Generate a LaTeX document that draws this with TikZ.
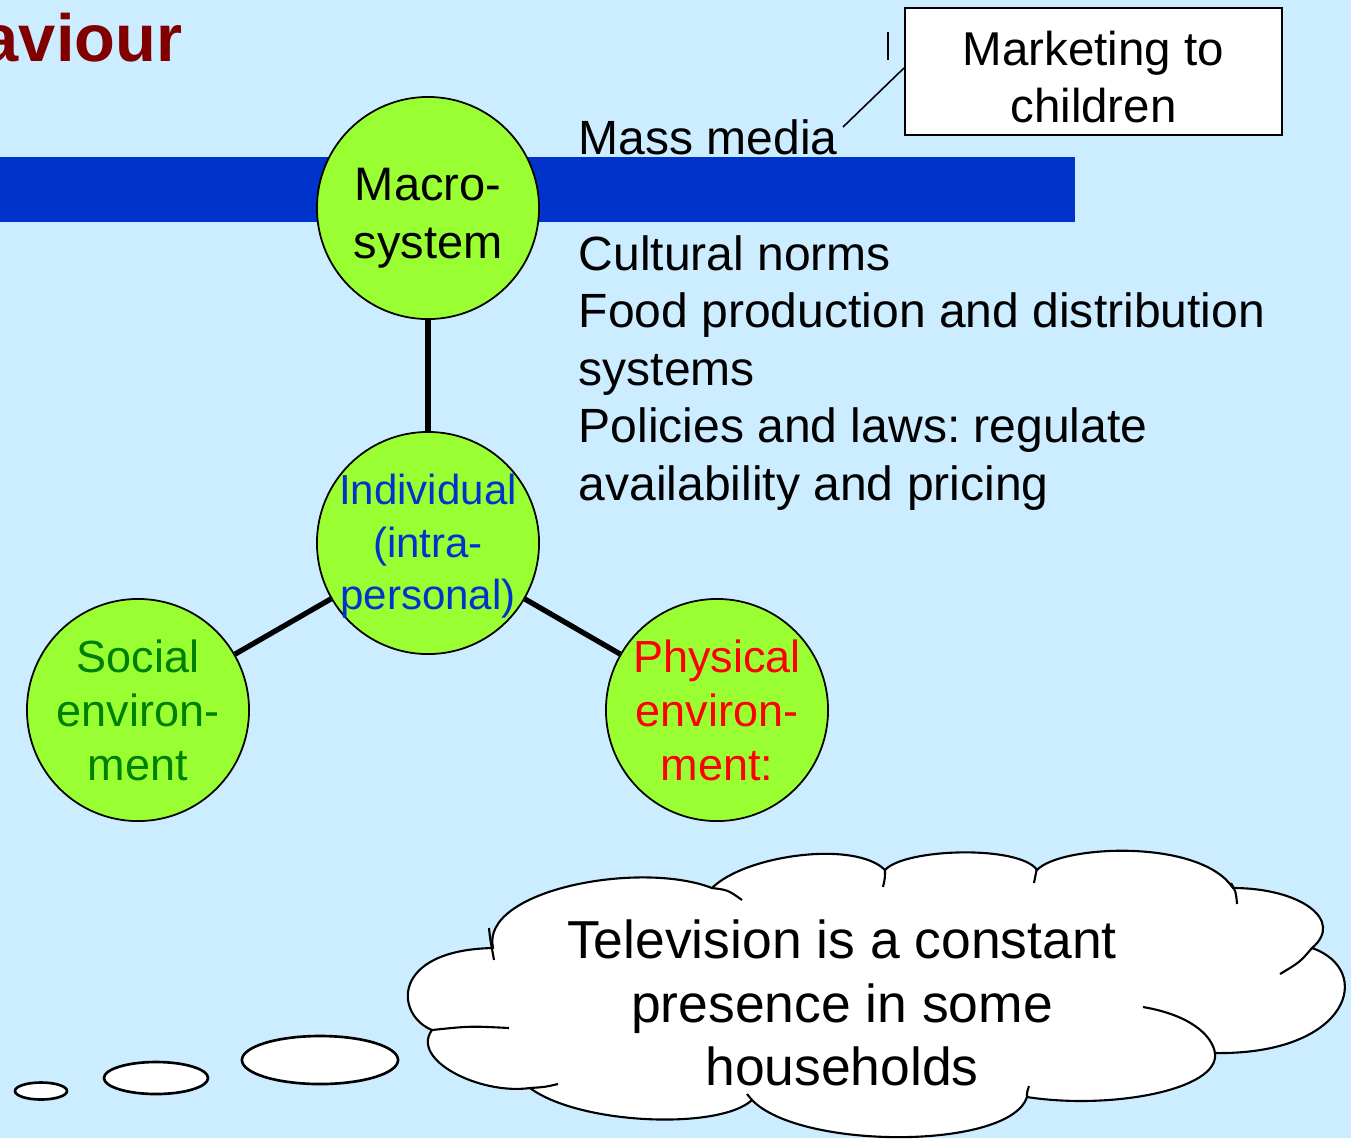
\documentclass[tikz,border=0pt]{standalone}
\usepackage{fontspec}
\setmainfont{Liberation Sans}
\frenchspacing
\definecolor{bg}{RGB}{204,236,255}
\definecolor{barblue}{RGB}{0,51,204}
\definecolor{ballgreen}{RGB}{153,255,51}
\definecolor{titlered}{RGB}{128,0,0}
\definecolor{socgreen}{RGB}{0,128,0}
\definecolor{indblue}{RGB}{0,51,204}
\tikzset{
  ball/.style={circle, draw=black, line width=0.5pt, fill=ballgreen, minimum size=2.22cm, inner sep=0pt, align=center},
  link/.style={line width=1.5pt, draw=black},
  bodytext/.style={anchor=base west, inner sep=0pt, font=\fontsize{13.66pt}{16.4pt}\selectfont},
  cloudline/.style={line width=0.6pt, draw=black},
  bubble/.style={line width=0.75pt, draw=black, fill=white},
}
\begin{document}
\begin{tikzpicture}[x=0.01cm, y=-0.01cm]
\useasboundingbox (0,0) rectangle (1351,1138);
\fill[bg] (0,0) rectangle (1351,1138);

% title fragment
\node[anchor=base east, inner sep=0pt, text=titlered, font=\fontsize{19pt}{22pt}\selectfont\bfseries] (title) at (183,61) {aviour};

% blue bar
\fill[barblue] (0,157) rectangle (1075,222);

% circles
\node[ball, font=\fontsize{13.37pt}{16.5pt}\selectfont, text height=1.0cm, text depth=0pt] (macro) at (428,208) {Macro-\\system};
\node[ball, text=indblue, font=\fontsize{11.95pt}{14.8pt}\selectfont, text height=1.32cm, text depth=0pt] (indiv) at (428,543) {Individual\\(intra-\\personal)};
\node[ball, text=socgreen, font=\fontsize{12.8pt}{15.36pt}\selectfont] (social) at (138,710) {Social\\environ-\\ment};
\node[ball, text=red, font=\fontsize{12.8pt}{15.36pt}\selectfont] (phys) at (717,710) {Physical\\environ-\\ment:};
\draw[link] (macro) -- (indiv);
\draw[link] (indiv) -- (social);
\draw[link] (indiv) -- (phys);

% right-hand text
\node[bodytext] (mm) at (578,154) {Mass media};
\node[bodytext] (t1) at (578,270) {Cultural norms};
\node[bodytext] (t2) at (578,327.5) {Food production and distribution};
\node[bodytext] (t3) at (578,385) {systems};
\node[bodytext] (t4) at (578,442.5) {Policies and laws: regulate};
\node[bodytext] (t5) at (578,500) {availability and pricing};

% marketing box
\node[draw=black, line width=0.5pt, fill=white, minimum width=3.77cm, minimum height=1.27cm, inner sep=0pt, align=center, text height=1.02cm, text depth=0pt, font=\fontsize{13.5pt}{16.2pt}\selectfont] (box) at (1093.5,71.5) {Marketing to\\children};
\coordinate (mmend) at (843,127);
\draw[line width=0.45pt] (mmend) -- ([yshift=0.035cm]box.west);
\coordinate (tickA) at (888,32);
\coordinate (tickB) at (888,60);
\draw[line width=0.45pt] (tickA) -- (tickB);

% cloud
\filldraw[cloudline, fill=white] (493,948) .. controls (480,890) and (640,860) .. (712,888)
 .. controls (745,855) and (855,840) .. (885,870)
 .. controls (905,848) and (1020,845) .. (1037,870)
 .. controls (1060,845) and (1200,838) .. (1233,888)
 .. controls (1300,888) and (1345,920) .. (1312,948)
 .. controls (1375,970) and (1350,1055) .. (1215,1053)
 .. controls (1220,1090) and (1110,1110) .. (1027,1097)
 .. controls (1010,1150) and (800,1150) .. (752,1100)
 .. controls (720,1130) and (580,1125) .. (530,1088)
 .. controls (480,1095) and (410,1060) .. (432,1030)
 .. controls (395,1015) and (390,950) .. (493,948) -- cycle;
\draw[cloudline] (489,928) .. controls (490,938) .. (494,960);
\draw[cloudline] (712,888) .. controls (728,890) .. (742,900);
\draw[cloudline] (885,870) .. controls (885,878) .. (883,887);
\draw[cloudline] (1037,868) .. controls (1035,875) .. (1034,883);
\draw[cloudline] (1231,883) .. controls (1236,892) .. (1237,904);
\draw[cloudline] (1312,948) .. controls (1300,962) .. (1280,974);
\draw[cloudline] (1143,1007) .. controls (1190,1015) and (1212,1035) .. (1215,1053);
\draw[cloudline] (1027,1097) .. controls (1027,1092) .. (1029,1086);
\draw[cloudline] (752,1100) .. controls (750,1097) .. (747,1094);
\draw[cloudline] (530,1088) .. controls (545,1087) .. (558,1084);
\draw[cloudline] (432,1030) .. controls (470,1026) .. (509,1028);
\node[inner sep=0pt, align=center, font=\fontsize{15.2pt}{18.1pt}\selectfont] (cloudtext) at (842,1003) {Television is a constant\\presence in some\\households};

% thought bubbles
\draw[bubble] (41,1091) ellipse [x radius=0.26cm, y radius=0.085cm];
\draw[bubble] (156,1078) ellipse [x radius=0.52cm, y radius=0.16cm];
\draw[bubble] (320,1060) ellipse [x radius=0.78cm, y radius=0.24cm];
\end{tikzpicture}
\end{document}
